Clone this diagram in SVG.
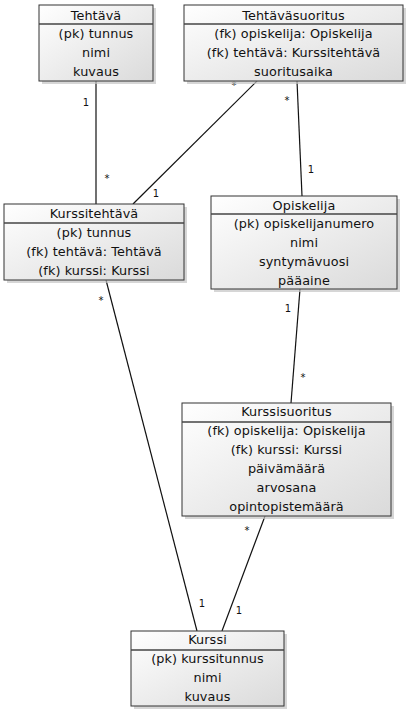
<svg xmlns="http://www.w3.org/2000/svg" width="410" height="713" viewBox="0 0 410 713">
<defs>
<linearGradient id="g" x1="0" y1="0" x2="1" y2="1">
<stop offset="0" stop-color="#ffffff"/>
<stop offset="1" stop-color="#dadada"/>
</linearGradient>
</defs>
<style>
.shadow{fill:#c4c4c4;opacity:0.7}
.box{fill:url(#g);stroke:#333;stroke-width:1}
.div{stroke:#444;stroke-width:1.6}
.t{font-family:"DejaVu Sans",Verdana,sans-serif;font-size:12.8px;letter-spacing:0.1px;fill:#111;text-anchor:middle}
.c{stroke:#111;stroke-width:1.2;fill:none}
.m{font-family:"DejaVu Sans",Verdana,sans-serif;font-size:10px;fill:#111;text-anchor:middle}
</style>
<rect width="410" height="713" fill="#fff"/>
<g id="connectors">
<line class="c" x1="96" y1="81" x2="96" y2="204"/>
<line class="c" x1="257" y1="81" x2="133" y2="204"/>
<line class="c" x1="297" y1="81" x2="302" y2="196"/>
<line class="c" x1="300" y1="289" x2="291" y2="403"/>
<line class="c" x1="106" y1="280" x2="197" y2="631"/>
<line class="c" x1="265" y1="516" x2="222" y2="631"/>
<text class="m" x="86" y="106">1</text>
<text class="m" x="107" y="182">*</text>
<text class="m" x="234" y="89">*</text>
<text class="m" x="156" y="197">1</text>
<text class="m" x="287" y="104">*</text>
<text class="m" x="311" y="173">1</text>
<text class="m" x="288" y="312">1</text>
<text class="m" x="303" y="381">*</text>
<text class="m" x="101" y="304">*</text>
<text class="m" x="202" y="607">1</text>
<text class="m" x="247" y="534">*</text>
<text class="m" x="239" y="614">1</text>
</g>
<g id="tehtava">
<rect class="shadow" x="42" y="8" width="114" height="76"/>
<rect class="box" x="39" y="5" width="114" height="76"/>
<line class="div" x1="39" y1="24" x2="153" y2="24"/>
<text class="t" x="96" y="19.5">Tehtävä</text>
<text class="t" x="96" y="38">(pk) tunnus</text>
<text class="t" x="96" y="57">nimi</text>
<text class="t" x="96" y="76">kuvaus</text>
</g>
<g id="tehtavasuoritus">
<rect class="shadow" x="187" y="8" width="219" height="76"/>
<rect class="box" x="184" y="5" width="219" height="76"/>
<line class="div" x1="184" y1="24" x2="403" y2="24"/>
<text class="t" x="293.5" y="19.5">Tehtäväsuoritus</text>
<text class="t" x="293.5" y="38">(fk) opiskelija: Opiskelija</text>
<text class="t" x="293.5" y="57">(fk) tehtävä: Kurssitehtävä</text>
<text class="t" x="293.5" y="76">suoritusaika</text>
</g>
<g id="kurssitehtava">
<rect class="shadow" x="7" y="207" width="180" height="76"/>
<rect class="box" x="4" y="204" width="180" height="76"/>
<line class="div" x1="4" y1="223" x2="184" y2="223"/>
<text class="t" x="94" y="217.5">Kurssitehtävä</text>
<text class="t" x="94" y="236.5">(pk) tunnus</text>
<text class="t" x="94" y="255.5">(fk) tehtävä: Tehtävä</text>
<text class="t" x="94" y="274.5">(fk) kurssi: Kurssi</text>
</g>
<g id="opiskelija">
<rect class="shadow" x="214" y="199" width="186" height="93"/>
<rect class="box" x="211" y="196" width="186" height="93"/>
<line class="div" x1="211" y1="214" x2="397" y2="214"/>
<text class="t" x="304" y="209.5">Opiskelija</text>
<text class="t" x="304" y="227.5">(pk) opiskelijanumero</text>
<text class="t" x="304" y="246.5">nimi</text>
<text class="t" x="304" y="265.5">syntymävuosi</text>
<text class="t" x="304" y="284.5">pääaine</text>
</g>
<g id="kurssisuoritus">
<rect class="shadow" x="185" y="406" width="209" height="113"/>
<rect class="box" x="182" y="403" width="209" height="113"/>
<line class="div" x1="182" y1="422" x2="391" y2="422"/>
<text class="t" x="286.5" y="416">Kurssisuoritus</text>
<text class="t" x="286.5" y="435">(fk) opiskelija: Opiskelija</text>
<text class="t" x="286.5" y="454">(fk) kurssi: Kurssi</text>
<text class="t" x="286.5" y="473">päivämäärä</text>
<text class="t" x="286.5" y="492">arvosana</text>
<text class="t" x="286.5" y="511">opintopistemäärä</text>
</g>
<g id="kurssi">
<rect class="shadow" x="134" y="634" width="153" height="75"/>
<rect class="box" x="131" y="631" width="153" height="75"/>
<line class="div" x1="131" y1="650" x2="284" y2="650"/>
<text class="t" x="207.5" y="644">Kurssi</text>
<text class="t" x="207.5" y="663">(pk) kurssitunnus</text>
<text class="t" x="207.5" y="682">nimi</text>
<text class="t" x="207.5" y="701">kuvaus</text>
</g>
</svg>
